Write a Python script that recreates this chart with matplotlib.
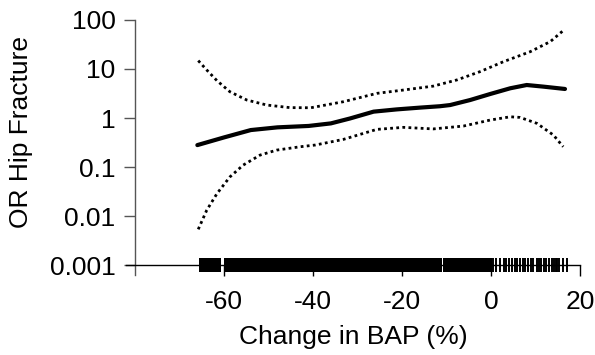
import numpy as np
import matplotlib.pyplot as plt

plt.rcParams.update({
    'font.family': 'Liberation Sans',
    'font.size': 19,
})

# fitted odds ratio and confidence band
fit_x = [-66, -60, -54, -48, -41, -36, -31.7, -26.4, -21.2, -16, -11.5, -9.2, -4.7, -0.2, 4.3, 8, 11.8, 16.6]
fit_or = [0.281, 0.403, 0.569, 0.646, 0.69, 0.778, 0.98, 1.35, 1.50, 1.63, 1.74, 1.84, 2.33, 3.09, 4.04, 4.71, 4.36, 3.91]

upper_x = [-65.8, -63.9, -61.6, -58.7, -54.9, -50.4, -45.2, -40.5, -33.2, -25.7, -19.7, -13, -7.7, -2.5, 2.8, 8.8, 13.3, 16.2]
upper_or = [14.8, 9.55, 5.78, 3.44, 2.33, 1.84, 1.63, 1.62, 2.15, 3.18, 3.72, 4.47, 5.97, 8.81, 14.1, 22.5, 36.1, 60.5]

lower_x = [-65.8, -63.9, -61.6, -58.7, -55.7, -51.9, -48.2, -42.9, -39.5, -33.2, -25.7, -19.7, -13, -6.2, -0.2, 4.3, 6.5, 10.3, 14.0, 16.2]
lower_or = [0.0054, 0.0132, 0.0288, 0.063, 0.110, 0.176, 0.222, 0.26, 0.282, 0.367, 0.587, 0.646, 0.60, 0.687, 0.91, 1.06, 1.03, 0.778, 0.45, 0.26]

# rug of observations: dense blocks and individual sparse values
rug_blocks = [(-65.6, -60.6), (-60.1, -11.1), (-10.7, 0.2)]
rug_sparse = [0.4, 1.1, 1.9, 2.8, 3.4, 4.1, 4.7, 5.4, 5.9, 6.5, 7.1, 7.6, 8.2, 8.9, 9.5,
              10.3, 10.7, 11.2, 11.9, 12.4, 12.9, 13.6, 14.2, 14.6, 14.9, 15.3, 16.2, 17.0]

y_ticks = [0.001, 0.01, 0.1, 1, 10, 100]
y_labels = ['0.001', '0.01', '0.1', '1', '10', '100']
x_ticks = [-60, -40, -20, 0, 20]

fig = plt.figure(figsize=(5.95, 3.55), dpi=100)
ax = fig.add_axes([0.212, 0.225, 0.763, 0.719])

ax.plot(fit_x, fit_or, color='black', lw=3, solid_capstyle='round', solid_joinstyle='round')
ax.plot(upper_x, upper_or, color='black', lw=2, linestyle=(0, (1, 1.2)))
ax.plot(lower_x, lower_or, color='black', lw=2, linestyle=(0, (1, 1.2)))

ax.broken_barh([(a, b - a) for a, b in rug_blocks], (0.00072, 0.00067), color='black', lw=0)
ax.plot(rug_sparse, [0.001] * len(rug_sparse), '|', color='black', ms=10, mew=1.4)

ax.set_yscale('log')
ax.set_ylim(0.00063, 100)
ax.set_xlim(-82, 20)
ax.set_yticks(y_ticks)
ax.set_yticklabels(y_labels)
ax.yaxis.set_minor_locator(plt.NullLocator())
ax.set_xticks(x_ticks)
ax.set_xticklabels([str(v) for v in x_ticks])

ax.spines['top'].set_visible(False)
ax.spines['right'].set_visible(False)
ax.spines['left'].set_position(('data', -80))
ax.spines['bottom'].set_position(('data', 0.001))
ax.spines['left'].set_color('#555555')
ax.spines['left'].set_linewidth(1)
ax.spines['bottom'].set_linewidth(1)
ax.tick_params(axis='y', direction='out', length=8, width=1, color='#555555', pad=6)
ax.tick_params(axis='x', direction='out', length=8, width=1, pad=10)

ax.set_xlabel('Change in BAP (%)', labelpad=8)
ax.set_ylabel('OR Hip Fracture')
ax.yaxis.set_label_coords(-0.205, 0.56)

fig.savefig('out.png', dpi=100)
